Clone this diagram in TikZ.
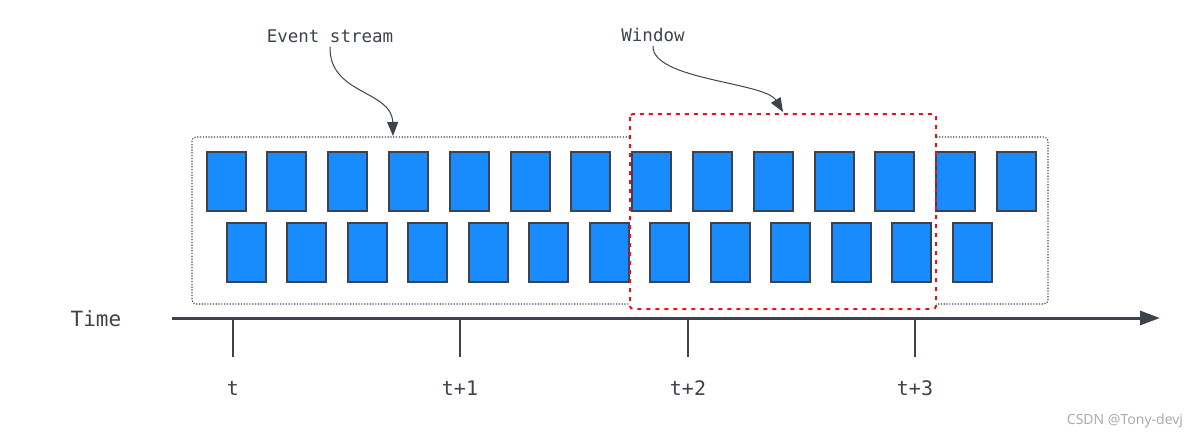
\documentclass[tikz,border=0pt]{standalone}
\usepackage{fontspec}
\setmonofont{DejaVu Sans Mono}
\newfontfamily\wmfont{Noto Sans}
\usetikzlibrary{arrows.meta}
\definecolor{boxblue}{RGB}{24,140,255}
\definecolor{ink}{RGB}{61,67,76}
\definecolor{winred}{RGB}{230,20,20}
\tikzset{
  evbox/.style={draw=ink, line width=2pt, fill=boxblue, minimum width=39pt, minimum height=59pt, inner sep=0pt},
  label17/.style={font=\ttfamily\fontsize{17.5}{20}\selectfont, text=ink, inner sep=0pt},
  ticklbl/.style={font=\ttfamily\fontsize{20}{22}\selectfont, text=ink, inner sep=0pt},
  curvearrow/.style={draw=ink, line width=1pt, -{Triangle[length=14pt,width=11pt]}},
  tickline/.style={draw=ink, line width=2pt},
}
\begin{document}
\begin{tikzpicture}[x=1pt,y=-1pt]
\useasboundingbox (0,0) rectangle (1197,439);
% outer dotted stream box
\draw[ink, line width=1.1pt, dash pattern=on 1.2pt off 1.6pt, rounded corners=4pt] (192,137) rectangle (1048,304);
% window fill
\fill[white] (630,114) rectangle (936,309);
% boxes
\foreach \k in {0,...,13} {
  \node[evbox] (t\k) at ({226+\k*60.8},181.5) {};
}
\foreach \k in {0,...,12} {
  \node[evbox] (b\k) at ({246+\k*60.5},252) {};
}
% window border
\draw[winred, line width=2pt, dash pattern=on 4pt off 5pt, rounded corners=3pt] (630,114) rectangle (936,309);
% labels
\node[label17] (es) at (330,36) {Event stream};
\node[label17] (win) at (653,35) {Window};
\coordinate (esT) at (393,136);
\coordinate (winT) at (783,112);
\draw[curvearrow] (es.south) ++(0,4) .. controls (329,95) and (392,90) .. (esT);
\draw[curvearrow] (win.south) ++(0,4) .. controls (652,80) and (765,82) .. (winT);
% time axis
\node[font=\ttfamily\fontsize{21}{24}\selectfont, text=ink, inner sep=0pt] (time) at (96,319) {Time};
\coordinate (axL) at (172,318);
\coordinate (axR) at (1160,318);
\draw[ink, line width=3pt, -{Triangle[length=20pt,width=14pt]}] (axL) -- (axR);
\foreach \x/\lab/\n in {233/t/0, 460/t+1/1, 688/t+2/2, 915/t+3/3} {
  \coordinate (tk\n) at (\x,318);
  \coordinate (tb\n) at (\x,357);
  \draw[tickline] (tk\n) -- (tb\n);
  \node[ticklbl] (tl\n) at (\x,388) {\lab};
}
% watermark
\node[font=\wmfont\fontsize{14}{16}\selectfont, text=gray!65, inner sep=0pt] (wm) at (1125,421) {CSDN @Tony-devj};
\end{tikzpicture}
\end{document}
